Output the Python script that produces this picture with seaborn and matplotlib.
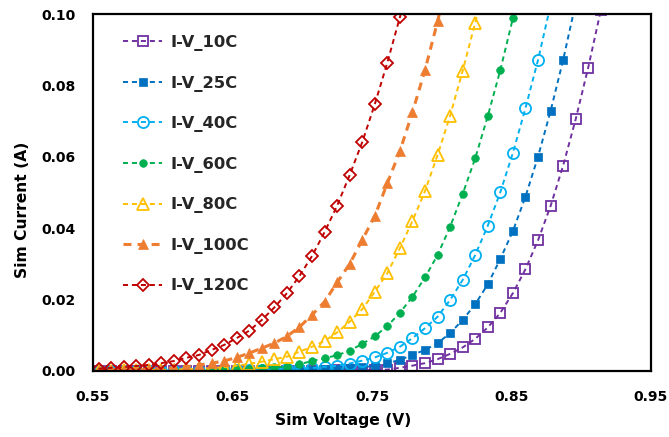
import matplotlib
matplotlib.use("Agg")
import matplotlib.pyplot as plt
import seaborn as sns
import pandas as pd

# Swept diode voltage (V), shared by every temperature
voltage = [0.554, 0.563, 0.572, 0.581, 0.590, 0.599, 0.608, 0.617, 0.626, 0.635,
           0.644, 0.653, 0.662, 0.671, 0.680, 0.689, 0.698, 0.707, 0.716, 0.725,
           0.734, 0.743, 0.752, 0.761, 0.770, 0.779, 0.788, 0.797, 0.806, 0.815,
           0.824, 0.833, 0.842, 0.851, 0.860, 0.869, 0.878, 0.887, 0.896, 0.905,
           0.914]

# Simulated current (A) per temperature
iv_10c = [0.0000, 0.0000, 0.0000, 0.0000, 0.0000, 0.0000, 0.0000, 0.0000, 0.0000, 0.0000,
          0.0000, 0.0000, 0.0000, 0.0000, 0.0001, 0.0001, 0.0001, 0.0001, 0.0001, 0.0002,
          0.0002, 0.0002, 0.0003, 0.0004, 0.0009, 0.0015, 0.0022, 0.0033, 0.0048, 0.0066,
          0.0090, 0.0122, 0.0163, 0.0218, 0.0285, 0.0366, 0.0462, 0.0575, 0.0705, 0.0850,
          0.1010]
iv_25c = [0.0000, 0.0000, 0.0000, 0.0000, 0.0000, 0.0000, 0.0000, 0.0000, 0.0000, 0.0000,
          0.0001, 0.0001, 0.0001, 0.0001, 0.0002, 0.0002, 0.0003, 0.0004, 0.0005, 0.0006,
          0.0008, 0.0011, 0.0014, 0.0022, 0.0031, 0.0045, 0.0059, 0.0078, 0.0106, 0.0143,
          0.0187, 0.0243, 0.0314, 0.0392, 0.0488, 0.0600, 0.0728, 0.0871, 0.1030]
iv_40c = [0.0000, 0.0000, 0.0000, 0.0000, 0.0000, 0.0001, 0.0001, 0.0001, 0.0001, 0.0001,
          0.0002, 0.0002, 0.0003, 0.0003, 0.0004, 0.0005, 0.0006, 0.0008, 0.0012, 0.0015,
          0.0021, 0.0029, 0.0038, 0.0051, 0.0068, 0.0092, 0.0120, 0.0152, 0.0199, 0.0255,
          0.0325, 0.0407, 0.0501, 0.0611, 0.0736, 0.0871, 0.1025]
iv_60c = [0.0000, 0.0000, 0.0001, 0.0001, 0.0001, 0.0001, 0.0002, 0.0002, 0.0003, 0.0003,
          0.0004, 0.0005, 0.0006, 0.0008, 0.0010, 0.0012, 0.0019, 0.0028, 0.0036, 0.0044,
          0.0057, 0.0076, 0.0097, 0.0126, 0.0163, 0.0208, 0.0262, 0.0325, 0.0404, 0.0496,
          0.0596, 0.0714, 0.0843, 0.0988, 0.1130]
iv_80c = [0.0001, 0.0001, 0.0002, 0.0002, 0.0003, 0.0003, 0.0004, 0.0005, 0.0006, 0.0008,
          0.0011, 0.0015, 0.0020, 0.0026, 0.0033, 0.0040, 0.0054, 0.0068, 0.0084, 0.0108,
          0.0138, 0.0173, 0.0222, 0.0274, 0.0344, 0.0420, 0.0504, 0.0605, 0.0715, 0.0841,
          0.0976, 0.1120]
iv_100c = [0.0002, 0.0003, 0.0003, 0.0004, 0.0005, 0.0007, 0.0009, 0.0012, 0.0017, 0.0022,
           0.0028, 0.0038, 0.0050, 0.0064, 0.0078, 0.0097, 0.0123, 0.0157, 0.0194, 0.0248,
           0.0300, 0.0367, 0.0434, 0.0526, 0.0616, 0.0725, 0.0843, 0.0979, 0.1130]
iv_120c = [0.0006, 0.0009, 0.0011, 0.0014, 0.0017, 0.0022, 0.0028, 0.0037, 0.0045, 0.0059,
           0.0073, 0.0092, 0.0113, 0.0143, 0.0178, 0.0218, 0.0266, 0.0322, 0.0389, 0.0463,
           0.0549, 0.0641, 0.0747, 0.0864, 0.0991, 0.1130]

series_names = ["I-V_10C", "I-V_25C", "I-V_40C", "I-V_60C", "I-V_80C", "I-V_100C", "I-V_120C"]
series_values = [iv_10c, iv_25c, iv_40c, iv_60c, iv_80c, iv_100c, iv_120c]

x_ticks = [0.55, 0.65, 0.75, 0.85, 0.95]
y_ticks = [0.00, 0.02, 0.04, 0.06, 0.08, 0.10]

# Marker / line style for each temperature
styles = [
    dict(color="#7030A0", marker="s", ms=7.5, mfc="none", mew=1.3, lw=1.4),
    dict(color="#0070C0", marker="s", ms=5.8, mfc="#0070C0", mew=0.5, lw=1.4),
    dict(color="#00B0F0", marker="o", ms=8.0, mfc="none", mew=1.3, lw=1.4),
    dict(color="#00B050", marker="o", ms=5.5, mfc="#00B050", mew=0.5, lw=1.4),
    dict(color="#FFC000", marker="^", ms=8.0, mfc="none", mew=1.3, lw=1.4),
    dict(color="#ED7D31", marker="^", ms=7.0, mfc="#ED7D31", mew=0.5, lw=2.2),
    dict(color="#C00000", marker="D", ms=5.8, mfc="none", mew=1.3, lw=1.4),
]

frames = []
for name, vals in zip(series_names, series_values):
    frames.append(pd.DataFrame({"voltage": voltage[:len(vals)], "current": vals, "series": name}))
df = pd.concat(frames, ignore_index=True)

sns.set_theme(style="white")
plt.rcParams["font.family"] = ["DejaVu Sans"]
plt.rcParams["font.weight"] = "bold"

fig = plt.figure(figsize=(6.69, 4.37), dpi=100)
ax = fig.add_axes([93 / 669, 1 - 371 / 437, (651 - 93) / 669, (371 - 14) / 437])

for name, st in zip(series_names, styles):
    sub = df[df["series"] == name]
    sns.lineplot(data=sub, x="voltage", y="current", ax=ax, label=name,
                 color=st["color"], marker=st["marker"], markersize=st["ms"],
                 markerfacecolor=st["mfc"], markeredgecolor=st["color"],
                 markeredgewidth=st["mew"], linewidth=st["lw"],
                 linestyle=(0, (2.6, 2.0)), estimator=None, sort=False)

ax.set_xlim(0.55, 0.95)
ax.set_ylim(0.0, 0.10)
ax.set_xticks(x_ticks)
ax.set_yticks(y_ticks)
ax.set_xticklabels([f"{v:.2f}" for v in x_ticks])
ax.set_yticklabels([f"{v:.2f}" for v in y_ticks])
ax.tick_params(axis="y", direction="in", length=4.5, width=1.3, color="black",
               labelsize=10, labelcolor="black", pad=12.5)
ax.tick_params(axis="x", direction="in", length=4.5, width=1.3, color="black",
               labelsize=10, labelcolor="black", pad=14)
for lbl in ax.get_xticklabels() + ax.get_yticklabels():
    lbl.set_fontweight("bold")

for side in ["left", "bottom", "top", "right"]:
    ax.spines[side].set_visible(True)
    ax.spines[side].set_color("black")
    ax.spines[side].set_linewidth(1.6)

ax.set_xlabel("Sim Voltage (V)", fontsize=11.2, fontweight="bold", color="black")
ax.set_ylabel("Sim Current (A)", fontsize=11.2, fontweight="bold", color="black")
ax.xaxis.set_label_coords((343 - 93) / 558, -0.119)
ax.yaxis.set_label_coords(-0.113, (371 - 210) / 357)
ax.grid(False)

leg = ax.legend(loc="upper left", bbox_to_anchor=((123 - 93) / 558, (371 - 35) / 357),
                frameon=False, borderaxespad=0, borderpad=0,
                labelspacing=1.5, handlelength=2.4, handletextpad=0.5,
                prop={"weight": "bold", "size": 11.8})

fig.savefig("out.png", dpi=100, facecolor="white")
